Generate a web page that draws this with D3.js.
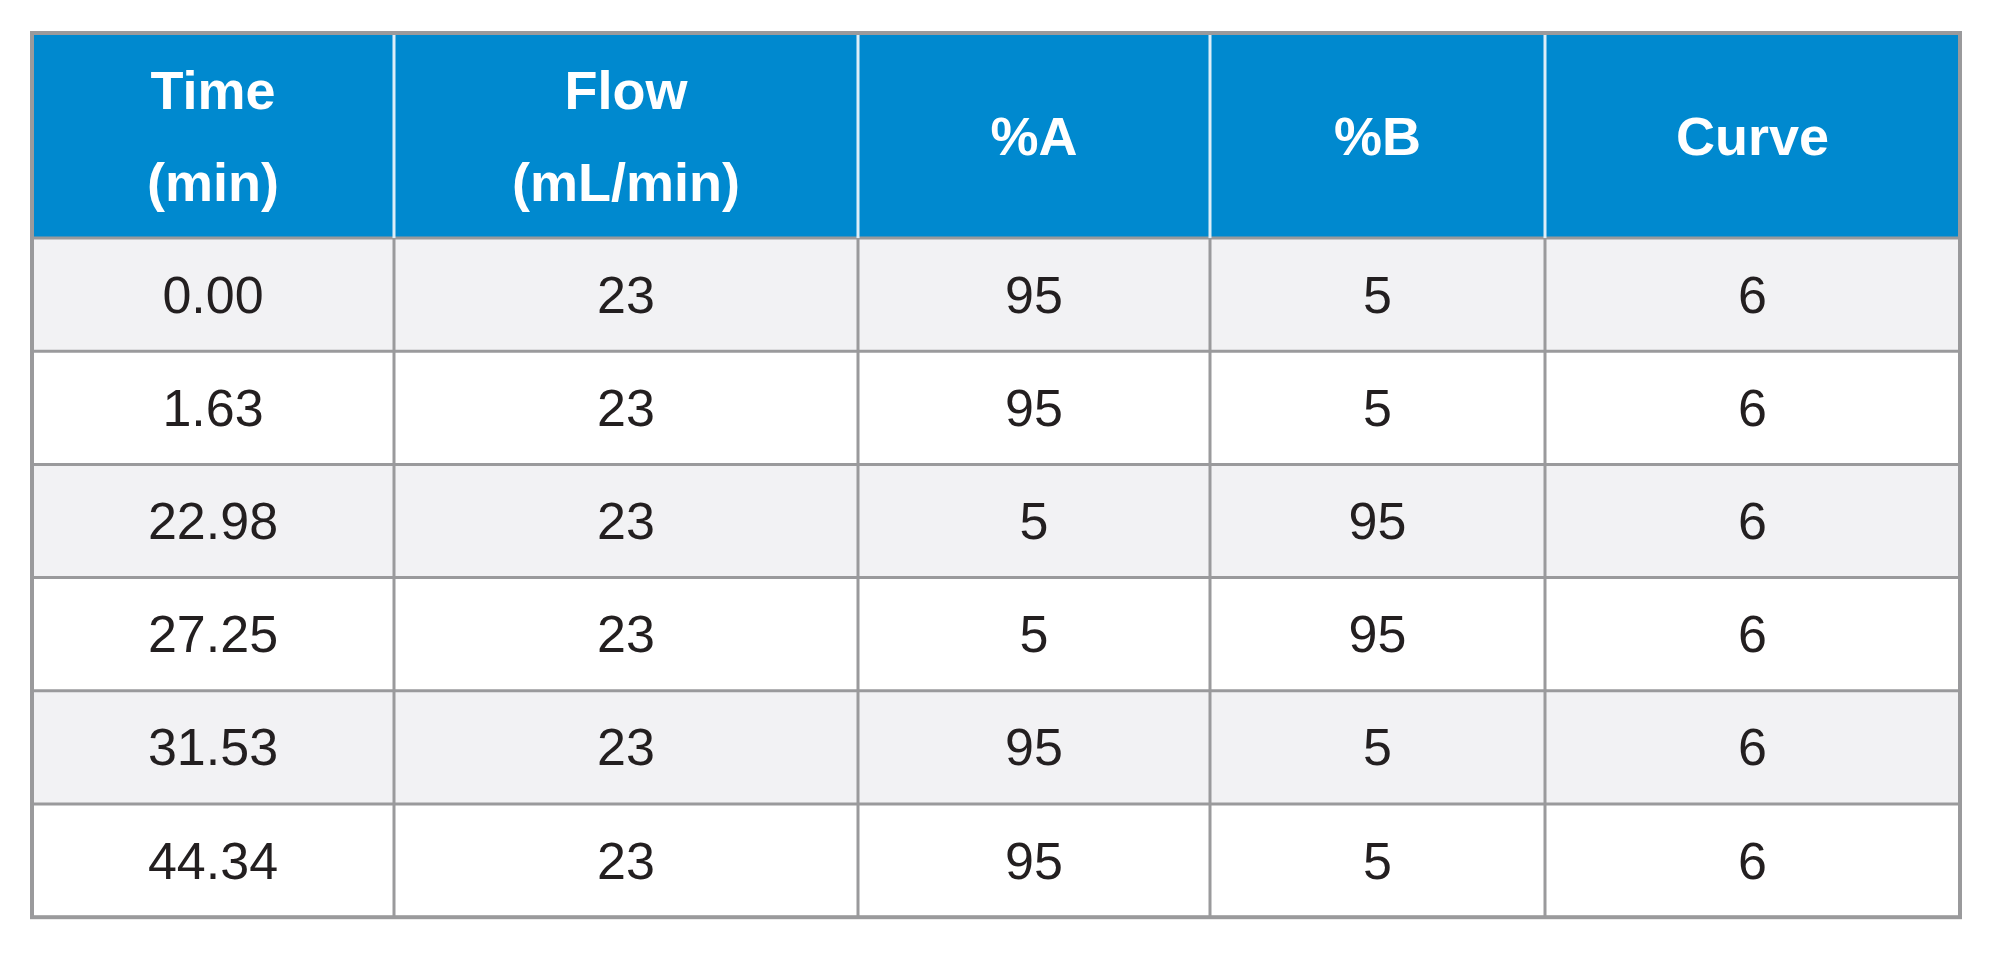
<!DOCTYPE html><html><head><meta charset="utf-8">
<script src="https://cdn.jsdelivr.net/npm/d3@7"></script>
<style>body{margin:0;background:#fff}</style></head><body><svg id="c" width="2000" height="963"></svg>
<script>
const headers = [["Time","(min)"],["Flow","(mL/min)"],["%A"],["%B"],["Curve"]];
const time = ["0.00","1.63","22.98","27.25","31.53","44.34"];
const flow = [23,23,23,23,23,23];
const pctA = [95,95,5,5,95,95];
const pctB = [5,5,95,95,5,5];
const curve = [6,6,6,6,6,6];
(function(){
const rows = time.map((t,i)=>[t,flow[i],pctA[i],pctB[i],curve[i]]);
const colEdges=[32,394,858,1210,1545,1960];
const tableTop=33, headH=205, rowH=113.2;
const svg=d3.select("#c");
const font="'Liberation Sans', Arial, sans-serif";
svg.append("rect").attr("x",32).attr("y",tableTop).attr("width",1928).attr("height",headH).attr("fill","#0089CF");
rows.forEach((r,i)=>{
  const y=tableTop+headH+i*rowH;
  svg.append("rect").attr("x",32).attr("y",y).attr("width",1928).attr("height",rowH).attr("fill",i%2==0?"#F2F2F4":"#FFFFFF");
  r.forEach((v,j)=>{
    svg.append("text").attr("x",(colEdges[j]+colEdges[j+1])/2).attr("y",y+rowH/2+18)
      .attr("text-anchor","middle").attr("font-family",font).attr("font-size",52).attr("fill","#231F20").text(v);
  });
});
headers.forEach((h,j)=>{
  const cx=(colEdges[j]+colEdges[j+1])/2;
  const cy=tableTop+headH/2;
  h.forEach((line,k)=>{
    const y = h.length==1? cy+19 : cy+19+(k-0.5)*92;
    svg.append("text").attr("x",cx).attr("y",y).attr("text-anchor","middle").attr("font-family",font)
      .attr("font-weight","bold").attr("font-size",54).attr("fill","#fff").text(line);
  });
});
for(let i=0;i<6;i++){const y=tableTop+headH+i*rowH;
  svg.append("line").attr("x1",32).attr("x2",1960).attr("y1",y).attr("y2",y).attr("stroke","#9A9A9C").attr("stroke-width",3);}
colEdges.slice(1,5).forEach(x=>{
  svg.append("line").attr("x1",x).attr("x2",x).attr("y1",tableTop).attr("y2",tableTop+headH).attr("stroke","#DDEEF8").attr("stroke-width",3);
  svg.append("line").attr("x1",x).attr("x2",x).attr("y1",tableTop+headH).attr("y2",tableTop+headH+6*rowH).attr("stroke","#9A9A9C").attr("stroke-width",3);
});
svg.append("rect").attr("x",32).attr("y",tableTop).attr("width",1928).attr("height",headH+6*rowH).attr("fill","none").attr("stroke","#9A9A9C").attr("stroke-width",4);
})();
</script></body></html>
